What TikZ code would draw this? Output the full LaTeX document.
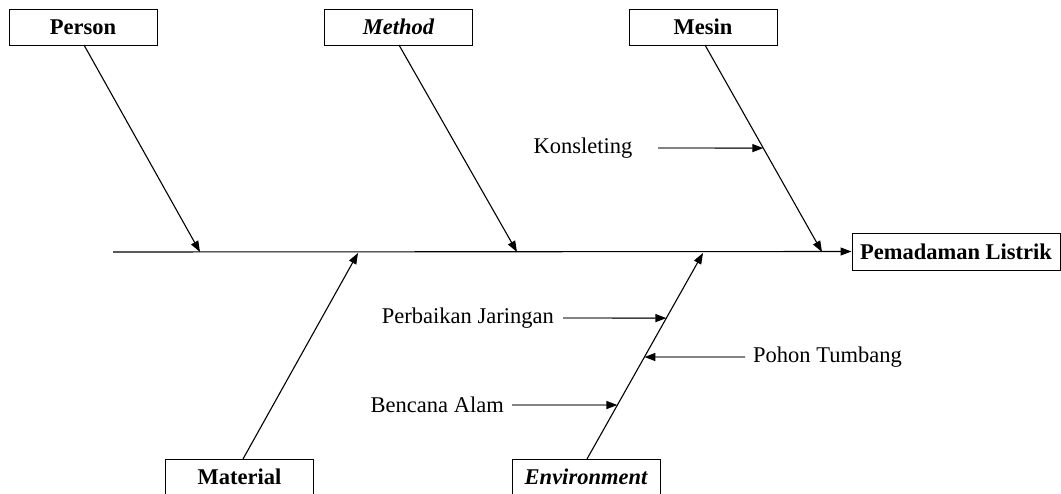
\documentclass[tikz,border=0pt]{standalone}
\usepackage{fontspec}
\setmainfont{Liberation Serif}
\usetikzlibrary{arrows.meta,calc}
\begin{document}
\begin{tikzpicture}[x=1pt,y=-1pt,
  catbox/.style={draw,line width=1pt,minimum width=148pt,minimum height=36pt,inner sep=0pt,font=\fontsize{22.5}{24}\selectfont\bfseries},
  effbox/.style={draw,line width=1pt,minimum width=208pt,minimum height=37pt,inner sep=0pt,font=\fontsize{22.5}{24}\selectfont\bfseries},
  lbl/.style={inner sep=0pt,font=\fontsize{22.5}{24}\selectfont},
  bone/.style={line width=1.1pt,-{Triangle[length=11pt,width=8pt]}},
  sub/.style={line width=1.4pt,draw=black!75,-{Triangle[length=11pt,width=8pt,fill=black,color=black]}}]
\useasboundingbox (0,0) rectangle (1061,493);
% category boxes
\node[catbox] (person) at (83,27) {Person};
\node[catbox] (method) at (398.5,27) {\itshape Method};
\node[catbox] (mesin) at (703,27) {Mesin};
\node[catbox] (material) at (239.5,477) {Material};
\node[catbox] (env) at (586,477) {\itshape Environment};
\node[effbox] (effect) at (956,251.5) {Pemadaman Listrik};
% spine
\coordinate (tail) at (113,252);
\draw[bone] (tail) -- (effect.west);
% bone points
\coordinate (p0) at (84,45);   \coordinate (p1) at (200,252);
\coordinate (m0) at (399,45);  \coordinate (m1) at (517,252);
\coordinate (s0) at (705,45);  \coordinate (s1) at (822,252);
\coordinate (a0) at (243,459); \coordinate (a1) at (358,253);
\coordinate (e0) at (587,459); \coordinate (e1) at (703,253);
\draw[bone] (p0) -- (p1);
\draw[bone] (m0) -- (m1);
\draw[bone] (s0) -- (s1);
\draw[bone] (a0) -- (a1);
\draw[bone] (e0) -- (e1);
% sub causes
\node[lbl] (kon) at (583,148) {Konsleting};
\coordinate (kons) at (658,148);
\draw[sub] (kons) -- ($(s0)!0.498!(s1)$);
\node[lbl,anchor=east] (perb) at (554,318) {Perbaikan Jaringan};
\coordinate (perbs) at (563,318);
\draw[sub] (perbs) -- ($(e0)!0.684!(e1)$);
\node[lbl,anchor=west] (poh) at (753,357) {Pohon Tumbang};
\coordinate (pohs) at (745,357);
\draw[sub] (pohs) -- ($(e0)!0.495!(e1)$);
\node[lbl,anchor=east] (benc) at (504,405) {Bencana Alam};
\coordinate (bencs) at (512,405);
\draw[sub] (bencs) -- ($(e0)!0.262!(e1)$);
\end{tikzpicture}
\end{document}
